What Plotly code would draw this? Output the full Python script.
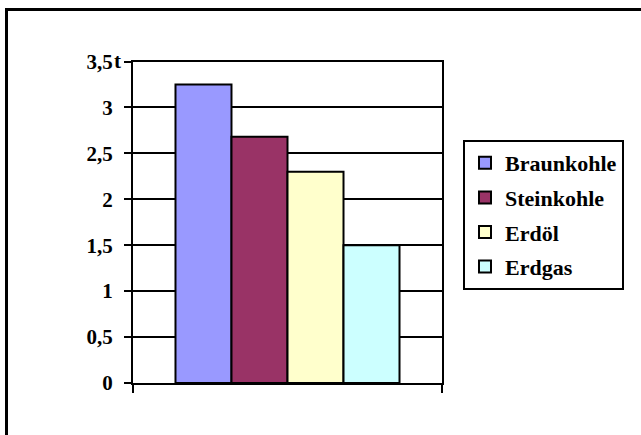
import plotly.graph_objects as go

# Data
series = ["Braunkohle", "Steinkohle", "Erdöl", "Erdgas"]
values = [3.25, 2.68, 2.30, 1.50]
colors = ["#9999FF", "#993366", "#FFFFCC", "#CCFFFF"]
tick_vals = [0, 0.5, 1, 1.5, 2, 2.5, 3, 3.5]
tick_text = ["0", "0,5", "1", "1,5", "2", "2,5", "3", "3,5"]
unit = "t"

W, H = 641, 435
FAMILY = "Liberation Serif"
TICKFONT = dict(family=FAMILY, size=21, color="black", weight="bold")
LEGFONT = dict(family=FAMILY, size=22, color="black", weight="bold")

fig = go.Figure()
for i, (name, v, c) in enumerate(zip(series, values, colors)):
    fig.add_trace(go.Bar(
        x=[0], y=[v], name=name, legendgroup=name,
        marker=dict(color=c, line=dict(color="black", width=2)),
    ))

x0, x1 = 133 / W, 442 / W
y0, y1 = 1 - 383 / H, 1 - 61.5 / H

fig.update_layout(
    template="none",
    width=W, height=H,
    margin=dict(l=0, r=0, t=0, b=0, pad=0, autoexpand=False),
    paper_bgcolor="white", plot_bgcolor="white",
    barmode="group", bargap=0.275, bargroupgap=0,
    font=TICKFONT,
    showlegend=True,
    legend=dict(
        x=463 / W, y=1 - 140 / H, xanchor="left", yanchor="top",
        bordercolor="black", borderwidth=2, bgcolor="white",
        font=LEGFONT, traceorder="grouped", tracegroupgap=3,
        itemwidth=30,
    ),
    xaxis=dict(
        domain=[x0, x1], range=[-0.5, 0.5], automargin=False,
        tickvals=[-0.5, 0.5], showticklabels=False,
        ticks="outside", ticklen=8, tickwidth=2, tickcolor="black",
        showline=True, linecolor="black", linewidth=2, mirror=True,
        showgrid=False, zeroline=False, fixedrange=True,
    ),
    yaxis=dict(
        domain=[y0, y1], range=[0, 3.5], automargin=False,
        tickvals=tick_vals, ticktext=tick_text,
        ticks="outside", ticklen=7, tickwidth=2, tickcolor="black",
        ticklabelstandoff=7,
        showline=True, linecolor="black", linewidth=2, mirror=True,
        showgrid=True, gridcolor="black", gridwidth=2,
        zeroline=False, fixedrange=True, tickfont=TICKFONT,
    ),
    shapes=[
        dict(type="path", xref="paper", yref="paper",
             path=f"M {6.5/W} -0.05 L {6.5/W} {1-9.5/H} L 1.05 {1-9.5/H}",
             line=dict(color="black", width=3)),
    ],
    annotations=[
        dict(text=unit, xref="paper", yref="y", x=112 / W, y=3.5,
             xanchor="left", yanchor="middle", showarrow=False, font=TICKFONT),
    ],
)

fig.write_html("out.html", config={"displayModeBar": False})
